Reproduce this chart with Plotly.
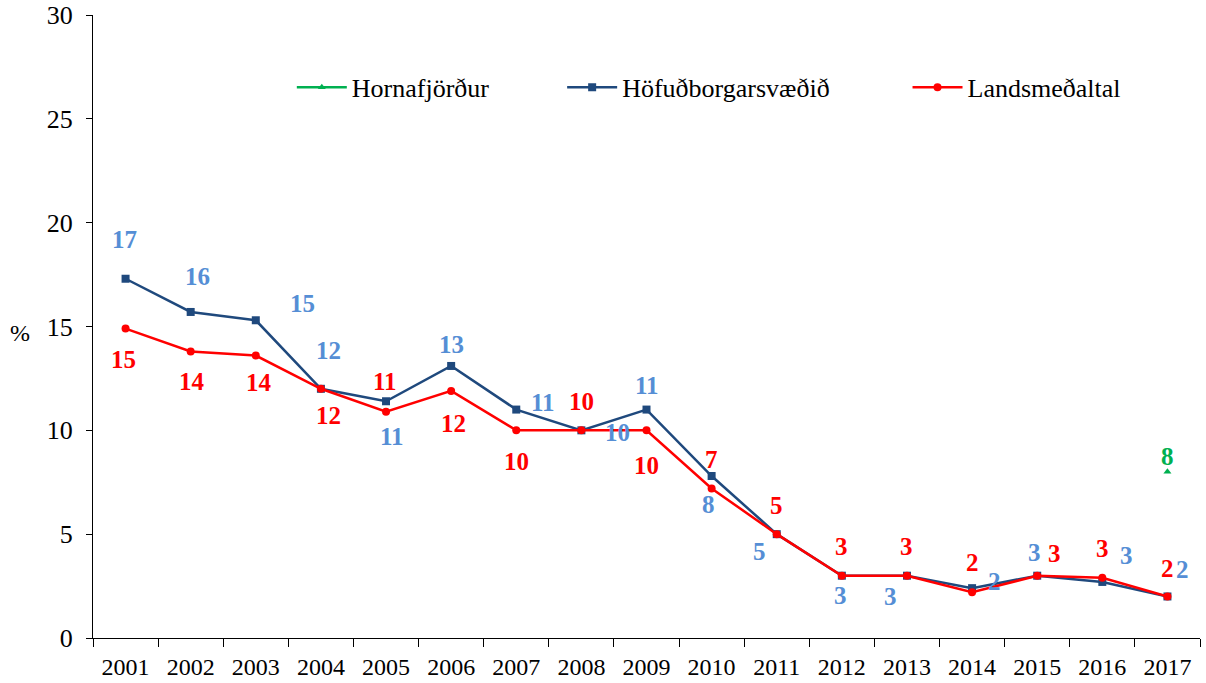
import plotly.graph_objects as go

years = [str(y) for y in range(2001, 2018)]
hofud = [17.3, 15.7, 15.3, 12.0, 11.4, 13.1, 11.0, 10.0, 11.0, 7.8, 5.0, 3.0, 3.0, 2.4, 3.0, 2.7, 2.0]
lands = [14.9, 13.8, 13.6, 12.0, 10.9, 11.9, 10.0, 10.0, 10.0, 7.2, 5.0, 3.0, 3.0, 2.2, 3.0, 2.9, 2.0]
horna = [None] * 16 + [8.0]
y_ticks = [0, 5, 10, 15, 20, 25, 30]

# label offsets in pixels (dx right, dy down)
hofud_off = [(-1, -39), (7, -35), (47, -17), (8, -38), (6, 35), (0, -21), (27, -7), (36, 2),
             (0, -24), (-3, 28), (-17, 17), (-1, 20), (-16, 21), (22, -7), (-3, -23), (24, -26), (15, -27)]
lands_off = [(-2, 31), (1, 30), (3, 27), (8, 27), (-1, -30), (2, 33), (0, 31), (0, -29),
             (0, 35), (0, -29), (0, -29), (0, -29), (0, -29), (0, -30), (17, -22), (0, -29), (0, -28)]
horna_off = (0, -15)

FONT = "Liberation Serif"
C_HOF = "#1F497D"
C_HOF_LBL = "#558ED5"
C_LAN = "#FF0000"
C_HOR = "#00B050"

fig = go.Figure()
fig.add_trace(go.Scatter(x=years, y=horna, name="Hornafjörður", mode="lines+markers",
                         line=dict(color=C_HOR, width=2.5),
                         marker=dict(symbol="triangle-up", size=7, color=C_HOR),
                         showlegend=True, legend="legend"))
fig.add_trace(go.Scatter(x=years, y=hofud, name="Höfuðborgarsvæðið", mode="lines+markers",
                         line=dict(color=C_HOF, width=2.5),
                         marker=dict(symbol="square", size=8, color=C_HOF),
                         showlegend=True, legend="legend2"))
fig.add_trace(go.Scatter(x=years, y=lands, name="Landsmeðaltal", mode="lines+markers",
                         line=dict(color=C_LAN, width=2.5),
                         marker=dict(symbol="circle", size=8, color=C_LAN),
                         showlegend=True, legend="legend3"))

ann = []
for i, (v, (dx, dy)) in enumerate(zip(hofud, hofud_off)):
    ann.append(dict(x=i, y=v, xref="x", yref="y", text=f"<b>{v:.0f}</b>", showarrow=False,
                    xshift=dx, yshift=-dy,
                    font=dict(family=FONT, size=25, color=C_HOF_LBL)))
for i, (v, (dx, dy)) in enumerate(zip(lands, lands_off)):
    ann.append(dict(x=i, y=v, xref="x", yref="y", text=f"<b>{v:.0f}</b>", showarrow=False,
                    xshift=dx, yshift=-dy,
                    font=dict(family=FONT, size=25, color=C_LAN)))
for i, v in enumerate(horna):
    if v is not None:
        ann.append(dict(x=i, y=v, xref="x", yref="y", text=f"<b>{v:.0f}</b>", showarrow=False,
                        xshift=horna_off[0], yshift=-horna_off[1],
                        font=dict(family=FONT, size=25, color=C_HOR)))
ann.append(dict(x=-0.066, y=(638 - 333) / 623, xref="paper", yref="paper", text="%",
                showarrow=False, xanchor="center", yanchor="middle",
                font=dict(family=FONT, size=24, color="black")))

leg_common = dict(orientation="h", yanchor="middle", xanchor="left", bgcolor="rgba(0,0,0,0)",
                  font=dict(family=FONT, size=26, color="black"), itemwidth=50)

fig.update_layout(
    width=1206, height=683,
    margin=dict(l=93, r=6, t=15, b=45, autoexpand=False),
    paper_bgcolor="white", plot_bgcolor="white",
    font=dict(family=FONT, size=24, color="black"),
    showlegend=True,
    annotations=ann,
    legend=dict(x=0.1796, y=0.884, **leg_common),
    legend2=dict(x=0.4238, y=0.884, **leg_common),
    legend3=dict(x=0.7358, y=0.884, **leg_common),
    xaxis=dict(type="category", range=[-0.5, 16.5], showgrid=False, showline=True,
               linecolor="black", linewidth=1, ticks="outside", tickson="boundaries",
               ticklen=8, tickcolor="black", tickfont=dict(family=FONT, size=24),
               ticklabelstandoff=7, automargin=False),
    yaxis=dict(range=[0, 30], tickvals=y_ticks, showgrid=False, showline=True,
               linecolor="black", linewidth=1, ticks="outside", ticklen=6, tickcolor="black",
               zeroline=False, tickfont=dict(family=FONT, size=26),
               ticklabelstandoff=8, ticklabeloverflow="allow", automargin=False),
)

fig.write_html("out.html", config={"displayModeBar": False},
               post_script="document.body.style.margin='0';document.body.style.overflow='hidden';")
